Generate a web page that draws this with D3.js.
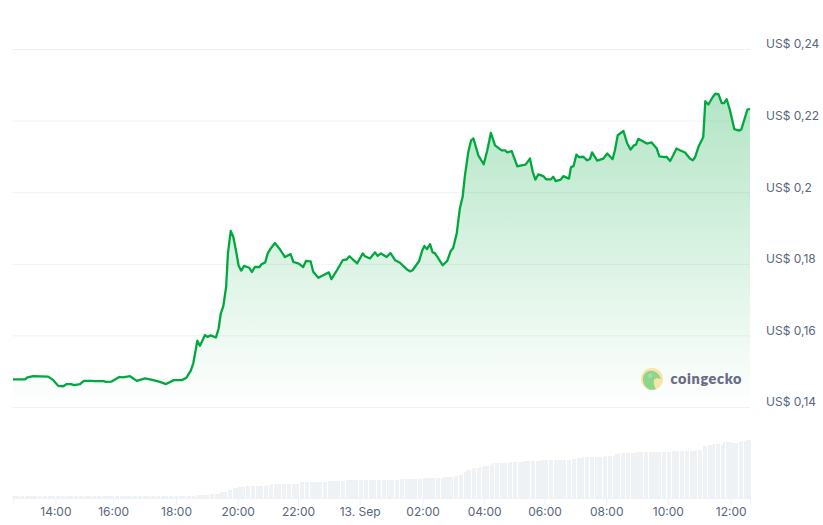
<!DOCTYPE html>
<html><head><meta charset="utf-8">
<script src="https://cdn.jsdelivr.net/npm/d3@7"></script>
<style>html,body{margin:0;padding:0;background:#fff}svg{display:block}text{font-family:Inter,sans-serif}</style>
</head><body><svg id="c" width="823" height="525"></svg>
<script>
// 5-minute slot of each line vertex, and price there
const priceSlots=[0,4.7,5.6,7.9,13.7,15.7,17.6,19.6,20.9,22.6,23.8,26.1,27.6,30.6,31.9,35.2,36.2,38.4,41.4,42.7,45.6,48.2,51.4,54.6,57.2,59.6,62.7,65.7,67.4,69.2,70.2,71.8,72.8,74.8,75.7,77,79,80.1,80.9,81.9,83,83.7,84.8,85.8,86.8,87.9,88.9,90,92,93,94.2,96,96.8,98.2,99.2,100.4,102,103.7,105.9,108.1,109.2,111.1,113,114.1,115.9,116.9,118.9,120.8,123,124,126,128.4,129.9,131,134,136.2,137.1,139,141,142,143.3,145.5,147,148.8,150.7,153.3,154.6,155.6,158.1,159.4,160.2,161.2,162.4,163.4,164.3,167.3,169.1,170.4,171.4,172.8,174,175.1,176,177.3,178.4,179.3,181.2,183.3,184.7,186.1,187.7,190.3,191.6,192.5,194.2,196.4,198.1,199.6,201.3,202.4,203.4,204.6,206.5,207.6,209.5,210.4,211.4,213.3,214.3,216.5,217.3,218.3,219.4,220.4,222.1,223.6,224.7,225.5,227.5,229.9,231.4,233.5,234.4,235.5,237.7,239.2,240.5,241.8,242.6,243.5,246.8,248.7,250.7,251.7,253.9,254.5,255.9,257.1,258.4,259.7,261.7,263.6,264.7,265.6,266.9,268.8,269.6,270.8,272.5,273.5,274.7,276,276.9,277.9,279.2,280.9,282.7,283.6,286,287];
const priceValues=[.1477,.1477,.1483,.1486,.1485,.1475,.1459,.1458,.1464,.1464,.1461,.1464,.1473,.1473,.1472,.1472,.1470,.1471,.1484,.1483,.1486,.1473,.1480,.1475,.1470,.1464,.1475,.1475,.1481,.1501,.1522,.1585,.1571,.1601,.1596,.1600,.1594,.1620,.1661,.1682,.1736,.1829,.1892,.1875,.1838,.1794,.1781,.1794,.1789,.1777,.1791,.1791,.1799,.1804,.1829,.1843,.1858,.1843,.1819,.1827,.1805,.1801,.1791,.1808,.1807,.1778,.1761,.1768,.1776,.1757,.1780,.1810,.1812,.1821,.1801,.1829,.1821,.1815,.1832,.1822,.1829,.1819,.1830,.1810,.1803,.1785,.1779,.1782,.1807,.1838,.1850,.1841,.1855,.1832,.1830,.1796,.1808,.1835,.1844,.1885,.1954,.1987,.2047,.2112,.2145,.2150,.2103,.2078,.2117,.2166,.2131,.2117,.2117,.2111,.2115,.2072,.2075,.2077,.2094,.2057,.2035,.2050,.2045,.2036,.2036,.2043,.2031,.2035,.2045,.2038,.2070,.2073,.2105,.2098,.2099,.2089,.2093,.2111,.2088,.2094,.2108,.2092,.2117,.2159,.2171,.2136,.2119,.2131,.2133,.2149,.2136,.2139,.2122,.2100,.2098,.2099,.2087,.2103,.2122,.2117,.2111,.2094,.2089,.2097,.2126,.2154,.2254,.2245,.2266,.2275,.2274,.2249,.2249,.2260,.2229,.2176,.2172,.2175,.2231,.2233];
// Volume steps: first slot of each step, and bar height (relative units)
const volumeStarts=[0,72,77,81,84,86,88,91,99,101,112,123,130,147,151,160,168,172,174,176,177,179,182,184,186,187,194,199,203,206,218,220,222,231,235,236,243,257,266,269,271,273,276,277,280,283,284,286];
const volumeLevels=[2.3,3.3,4.3,5.7,8.3,9.7,11,12,13.3,14.3,15.7,16.7,17.7,18.3,18.7,19.7,20.7,21.7,23.3,25.7,28,29.7,30.7,32,33.3,34.7,35.7,36.7,37,37.7,38.7,39.7,40.7,41.7,43.7,44.7,45.7,46.7,47.7,51.7,52.7,54,53.3,55.7,54.7,55.7,56.7,57.7];
const slotCount=288;
const xTickSlots=[16.5,39,63.5,87.5,111,135,159.5,183.5,207,231,255,279.5];
const xTickLabels=["14:00","16:00","18:00","20:00","22:00","13. Sep","02:00","04:00","06:00","08:00","10:00","12:00"];
const yTicks=[.14,.16,.18,.2,.22,.24];

const svg=d3.select("#c");
const x=d3.scaleLinear().domain([0,slotCount-1]).range([13,750]);
const y=d3.scaleLinear().domain([.14,.24]).range([407,49]);
const v=d3.scaleLinear().domain([0,60]).range([498,438]);
const pts=priceSlots.map((s,i)=>[s,priceValues[i]]);

const defs=svg.append("defs");
const g=defs.append("linearGradient").attr("id","fade").attr("gradientUnits","userSpaceOnUse")
 .attr("x1",0).attr("x2",0).attr("y1",y(d3.max(priceValues))).attr("y2",y(.14));
g.append("stop").attr("offset",0).attr("stop-color","#00a83e").attr("stop-opacity",.3);
g.append("stop").attr("offset",1).attr("stop-color","#00a83e").attr("stop-opacity",0);

// y axis with gridlines
const comma=d=>"US$ "+String(+d.toFixed(2)).replace(".",",");
const ya=svg.append("g").attr("transform","translate(750,0)")
 .call(d3.axisRight(y).tickValues(yTicks).tickFormat(comma).tickSize(-738).tickPadding(16));
ya.select(".domain").remove();
ya.selectAll("line").attr("stroke","#eff2f5");
ya.selectAll("text").attr("x",16).attr("dy","-0.1em").attr("fill","#58667e").style("font-size","12px").style("font-family","Inter");

// volume bars
svg.append("g").selectAll("rect").data(d3.range(slotCount)).join("rect")
 .attr("x",d=>x(d)-1.1).attr("width",2.2)
 .attr("y",d=>v(volumeLevels[d3.bisectRight(volumeStarts,d)-1]))
 .attr("height",d=>v(0)-v(volumeLevels[d3.bisectRight(volumeStarts,d)-1]))
 .attr("fill","#eff2f5").attr("shape-rendering","crispEdges");

// x axis
const xa=svg.append("g").attr("transform","translate(0,498)")
 .call(d3.axisBottom(x).tickValues(xTickSlots).tickFormat((d,i)=>xTickLabels[i]).tickSize(7).tickPadding(2));
xa.select(".domain").attr("stroke","#eff2f5");
xa.selectAll("line").attr("stroke","#eff2f5");
xa.selectAll("text").attr("fill","#58667e").style("font-size","12px").style("font-family","Inter");

// price area and line
svg.append("path").datum(pts).attr("fill","url(#fade)")
 .attr("d",d3.area().x(d=>x(d[0])).y0(y(.14)).y1(d=>y(d[1])));
svg.append("path").datum(pts).attr("fill","none").attr("stroke","#00a83e").attr("stroke-width",2.3).attr("stroke-linejoin","round")
 .attr("d",d3.line().x(d=>x(d[0])).y(d=>y(d[1])));

// watermark
const logo=svg.append("g").attr("transform","translate(652,379)");
logo.append("circle").attr("r",11).attr("fill","#f8e3a8");
logo.append("path").attr("d","M-9,-1 C-8,-7 -3,-9 1,-8 C5,-7 8,-4 9,0 C6,-1 3,-1 2,1 C1,4 3,8 4,10 C1,11.5 -3,11 -5,9 C-8,6 -9.5,3 -9,-1Z").attr("fill","#8dd68a");
logo.append("circle").attr("cx",-2).attr("cy",-3).attr("r",1.4).attr("fill","#fff");
logo.append("circle").attr("cx",-2).attr("cy",-3).attr("r",.7).attr("fill","#4b5563");
svg.append("text").attr("x",670.5).attr("y",384).text("coingecko")
 .style("font-family","Lato").style("font-weight",800).style("font-size","14.5px").attr("letter-spacing",".6").attr("fill","#6a6c88");
</script></body></html>
